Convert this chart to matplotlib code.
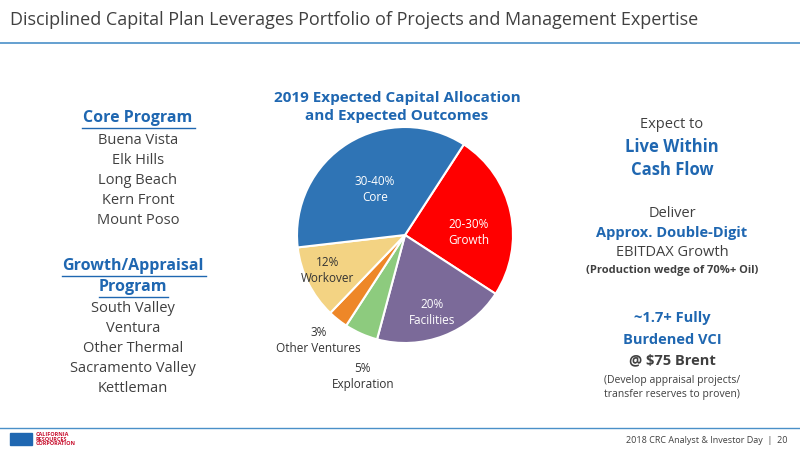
import matplotlib
matplotlib.use("Agg")
import matplotlib.pyplot as plt
from matplotlib.patches import Rectangle

plt.rcParams['font.family'] = ['Open Sans', 'DejaVu Sans']

# slice data, clockwise from the top-right boundary
labels = ["20-30%\nGrowth", "20%\nFacilities", "5%\nExploration", "3%\nOther Ventures", "12%\nWorkover", "30-40%\nCore"]
shares = [25, 20, 5, 3, 11, 36]
colors = ["#FF0000", "#7B6A99", "#8DCB7E", "#EE8728", "#F3D383", "#2F74B5"]
text_colors = ["white", "white", "#333333", "#333333", "#333333", "white"]

core_program = ["Buena Vista", "Elk Hills", "Long Beach", "Kern Front", "Mount Poso"]
growth_program = ["South Valley", "Ventura", "Other Thermal", "Sacramento Valley", "Kettleman"]

blue = "#1F67B1"
grey = "#404040"

fig = plt.figure(figsize=(8, 4.5), dpi=100)

# title and rules
fig.text(0.012, 0.955, "Disciplined Capital Plan Leverages Portfolio of Projects and Management Expertise",
         fontsize=13, color=grey, va="center")
fig.add_artist(plt.Line2D([0.0, 1.0], [0.905, 0.905], color="#4A90C8", lw=1.2))
fig.add_artist(plt.Line2D([0.0, 1.0], [0.048, 0.048], color="#4A90C8", lw=1.0))
fig.text(0.985, 0.022, "2018 CRC Analyst & Investor Day  |  20", fontsize=6.5, color=grey, ha="right", va="center")
fig.text(0.045, 0.024, "CALIFORNIA\nRESOURCES\nCORPORATION", fontsize=4, color="#C8102E",
         fontweight="bold", va="center", linespacing=0.9)
fig.add_artist(Rectangle((0.012, 0.012), 0.028, 0.025, color="#1F67B1", transform=fig.transFigure))

# pie
ax = fig.add_axes([(405 - 108) / 800, (450 - 235 - 108) / 450, 216 / 800, 216 / 450])
wedges, _ = ax.pie(shares, colors=colors, startangle=57, counterclock=False,
                   wedgeprops=dict(edgecolor="white", linewidth=1.5))
ax.set_xlim(-1, 1)
ax.set_ylim(-1, 1)
ax.set_aspect("equal")
pos = [(0.59, 0.02), (0.25, -0.72), (-0.39, -1.31), (-0.8, -0.98), (-0.72, -0.33), (-0.28, 0.42)]
for lab, p, c in zip(labels, pos, text_colors):
    ax.text(p[0], p[1], lab, ha="center", va="center", fontsize=8.5, color=c, linespacing=1.3, clip_on=False)

fig.text(397 / 800, 1 - 107 / 450, "2019 Expected Capital Allocation\nand Expected Outcomes",
         ha="center", va="center", fontsize=11, fontweight="bold", color=blue, linespacing=1.3)

# left lists
fig.text(138 / 800, 1 - 118 / 450, "Core Program", ha="center", va="center", fontsize=11.5,
         fontweight="bold", color=blue)
fig.add_artist(plt.Line2D([82 / 800, 195 / 800], [1 - 128 / 450] * 2, color=blue, lw=1))
for i, s in enumerate(core_program):
    fig.text(138 / 800, 1 - (140 + i * 20) / 450, s, ha="center", va="center", fontsize=10.5, color=grey)
fig.text(133 / 800, 1 - 266 / 450, "Growth/Appraisal", ha="center", va="center", fontsize=11.5,
         fontweight="bold", color=blue)
fig.add_artist(plt.Line2D([62 / 800, 206 / 800], [1 - 276 / 450] * 2, color=blue, lw=1))
fig.text(133 / 800, 1 - 287 / 450, "Program", ha="center", va="center", fontsize=11.5,
         fontweight="bold", color=blue)
fig.add_artist(plt.Line2D([99 / 800, 168 / 800], [1 - 297 / 450] * 2, color=blue, lw=1))
for i, s in enumerate(growth_program):
    fig.text(133 / 800, 1 - (308 + i * 20) / 450, s, ha="center", va="center", fontsize=10.5, color=grey)

# right column
cx = 672 / 800
right = [
    (125, "Expect to", 10.5, "normal", grey),
    (147, "Live Within", 12, "bold", blue),
    (170, "Cash Flow", 12, "bold", blue),
    (213, "Deliver", 10.5, "normal", grey),
    (233, "Approx. Double-Digit", 10.5, "bold", blue),
    (253, "EBITDAX Growth", 10.5, "normal", grey),
    (271, "(Production wedge of 70%+ Oil)", 8, "bold", grey),
    (318, "~1.7+ Fully", 10.5, "bold", blue),
    (340, "Burdened VCI", 10.5, "bold", blue),
    (360, "@ $75 Brent", 10.5, "bold", grey),
    (380, "(Develop appraisal projects/", 7.5, "normal", grey),
    (394, "transfer reserves to proven)", 7.5, "normal", grey),
]
for y, s, fs, fw, c in right:
    fig.text(cx, 1 - y / 450, s, ha="center", va="center", fontsize=fs, fontweight=fw, color=c)

fig.savefig("out.png", dpi=100)
